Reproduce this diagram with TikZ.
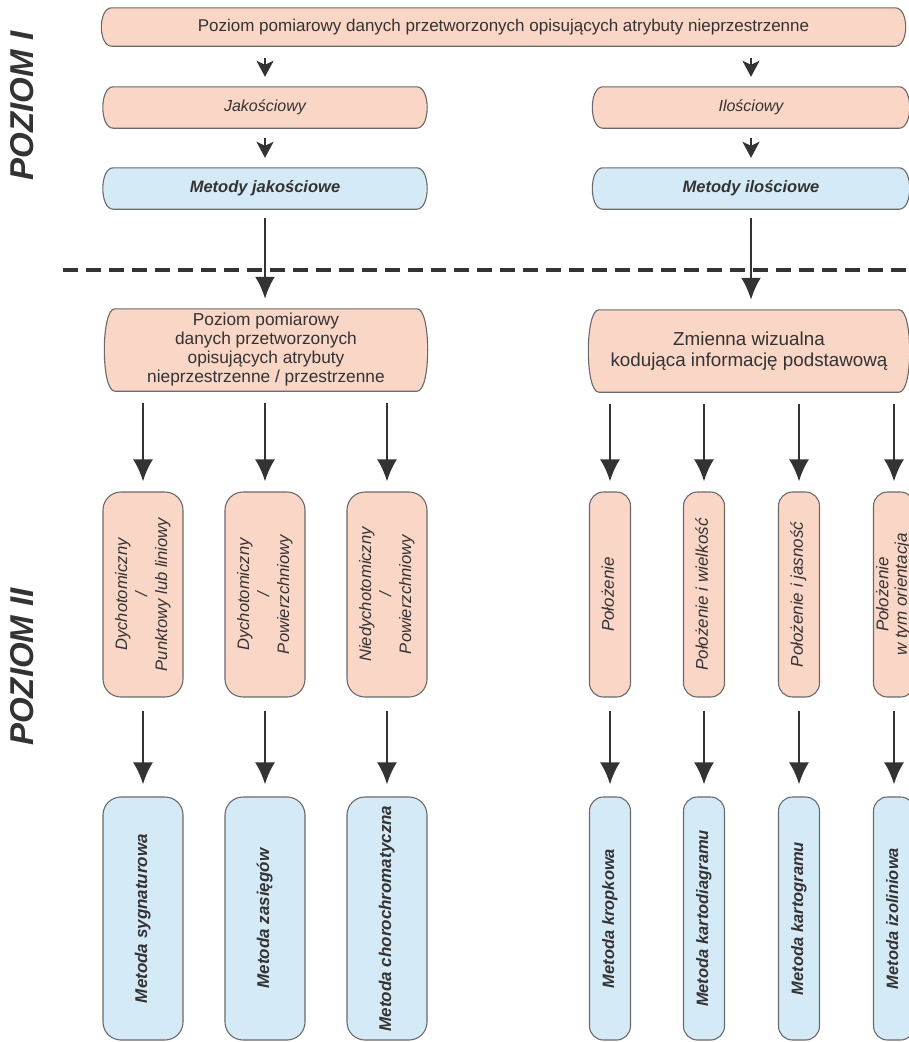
\documentclass[tikz,border=0pt]{standalone}
\usepackage{fontspec}
\setmainfont{Liberation Sans}
\usetikzlibrary{arrows.meta,calc,backgrounds}
\definecolor{pinkf}{HTML}{F9D6C6}
\definecolor{bluef}{HTML}{D5EAF7}
\definecolor{edgec}{HTML}{6A6A6A}
\definecolor{ink}{HTML}{333333}
\newcommand\vtext[1]{\rotatebox{90}{\begin{tabular}{@{}c@{}}#1\end{tabular}}}
% bulging-side outline for a horizontal box: node, fill colour
\newcommand\hshape[2]{%
  \path[draw=edgec, line width=1.1pt, fill=#2]
   ($(#1.north west)+(10,0)$) -- ($(#1.north east)+(-10,0)$)
   .. controls ($(#1.north east)+(4,0)$) and ($(#1.south east)+(4,0)$) .. ($(#1.south east)+(-10,0)$)
   -- ($(#1.south west)+(10,0)$)
   .. controls ($(#1.south west)+(-4,0)$) and ($(#1.north west)+(-4,0)$) .. cycle;}
\begin{document}
\begin{tikzpicture}[x=1pt,y=-1pt,
  hbox/.style={inner sep=0pt, text=ink, align=center},
  vwide/.style={draw=edgec, line width=1.1pt, rounded corners=18pt, inner sep=0pt, text=ink, minimum width=80pt},
  vnarrow/.style={draw=edgec, line width=1.1pt, rounded corners=14pt, inner sep=0pt, text=ink, minimum width=41pt},
  pinkv/.style={fill=pinkf, minimum height=205pt},
  bluev/.style={fill=bluef, minimum height=243pt},
  sarr/.style={draw=ink, line width=2.2pt, -{Stealth[length=16pt,width=17pt,inset=4pt]}},
  arr/.style={draw=ink, line width=2.4pt, -{Latex[length=22pt,width=20pt]}},
  lvl/.style={rotate=90, text=ink, font=\fontsize{33}{33}\selectfont\bfseries\itshape}
]
\clip (0,0) rectangle (909,1042);

% level labels
\node[lvl] (lv1) at (22,106) {POZIOM I};
\node[lvl] (lv2) at (22,667) {POZIOM II};

% top section
\node[hbox, minimum width=803pt, minimum height=38pt, font=\fontsize{17}{20}\selectfont] (top) at (503.5,27)
  {Poziom pomiarowy danych przetworzonych opisujących atrybuty nieprzestrzenne};
\node[hbox, minimum width=323pt, minimum height=41pt, font=\fontsize{16}{19}\selectfont\itshape] (jak) at (265,107.5) {Jakościowy};
\node[hbox, minimum width=316pt, minimum height=41pt, font=\fontsize{16}{19}\selectfont\itshape] (ilo) at (751,107.5) {Ilościowy};
\node[hbox, minimum width=323pt, minimum height=41pt, font=\fontsize{16.5}{19}\selectfont\bfseries\itshape] (mj) at (265,188.5) {Metody jakościowe};
\node[hbox, minimum width=316pt, minimum height=41pt, font=\fontsize{16.5}{19}\selectfont\bfseries\itshape] (mi) at (751,188.5) {Metody ilościowe};

% second level
\node[hbox, minimum width=322pt, minimum height=82pt, font=\fontsize{17.3}{19}\selectfont] (p2) at (266,350)
  {Poziom pomiarowy\\danych przetworzonych\\opisujących atrybuty\\nieprzestrzenne / przestrzenne};
\node[hbox, minimum width=320pt, minimum height=82pt, font=\fontsize{18.8}{21}\selectfont] (z2) at (749,351)
  {Zmienna wizualna\\kodująca informację podstawową};

\begin{scope}[on background layer]
  \fill[white] (0,0) rectangle (909,1042);
  \hshape{top}{pinkf}
  \hshape{jak}{pinkf}
  \hshape{ilo}{pinkf}
  \hshape{mj}{bluef}
  \hshape{mi}{bluef}
  \hshape{p2}{pinkf}
  \hshape{z2}{pinkf}
\end{scope}

\draw[sarr, shorten <=12pt, shorten >=10pt] (top.south -| jak) -- (jak);
\draw[sarr, shorten <=12pt, shorten >=10pt] (top.south -| ilo) -- (ilo);
\draw[sarr, shorten <=10pt, shorten >=10pt] (jak) -- (mj);
\draw[sarr, shorten <=10pt, shorten >=10pt] (ilo) -- (mi);

% dashed separator
\coordinate (dl) at (63,270);
\coordinate (dr) at (915,270);
\draw[ink, line width=3.5pt, dash pattern=on 15pt off 8pt] (dl) -- (dr);

\draw[arr, shorten <=9pt, shorten >=10pt] (mj.south) -- (mj.south |- p2.north);
\draw[arr, shorten <=9pt, shorten >=10pt] (mi.south) -- (mi.south |- z2.north);

% pink vertical boxes
\node[vwide, pinkv, font=\fontsize{16.6}{20}\selectfont\itshape] (pk1) at (143,594.5) {\vtext{Dychotomiczny\\/\\Punktowy lub liniowy}};
\node[vwide, pinkv, font=\fontsize{16.6}{20}\selectfont\itshape] (pk2) at (265,594.5) {\vtext{Dychotomiczny\\/\\Powierzchniowy}};
\node[vwide, pinkv, font=\fontsize{16.6}{20}\selectfont\itshape] (pk3) at (387,594.5) {\vtext{Niedychotomiczny\\/\\Powierzchniowy}};
\node[vnarrow, pinkv, font=\fontsize{17}{19}\selectfont\itshape] (pk4) at (610,594.5) {\vtext{Położenie}};
\node[vnarrow, pinkv, font=\fontsize{17}{19}\selectfont\itshape] (pk5) at (704,594.5) {\vtext{Położenie i wielkość}};
\node[vnarrow, pinkv, font=\fontsize{17}{19}\selectfont\itshape] (pk6) at (799,594.5) {\vtext{Położenie i jasność}};
\node[vnarrow, pinkv, font=\fontsize{17}{18.5}\selectfont\itshape] (pk7) at (894,594.5) {\vtext{Położenie\\w tym orientacja}};

% blue vertical boxes
\node[vwide, bluev, font=\fontsize{17}{20}\selectfont\bfseries\itshape] (bl1) at (143,918.5) {\vtext{Metoda sygnaturowa}};
\node[vwide, bluev, font=\fontsize{17}{20}\selectfont\bfseries\itshape] (bl2) at (265,918.5) {\vtext{Metoda zasięgów}};
\node[vwide, bluev, font=\fontsize{17}{20}\selectfont\bfseries\itshape] (bl3) at (387,918.5) {\vtext{Metoda chorochromatyczna}};
\node[vnarrow, bluev, font=\fontsize{16.5}{20}\selectfont\bfseries\itshape] (bl4) at (610,918.5) {\vtext{Metoda kropkowa}};
\node[vnarrow, bluev, font=\fontsize{16.5}{20}\selectfont\bfseries\itshape] (bl5) at (704,918.5) {\vtext{Metoda kartodiagramu}};
\node[vnarrow, bluev, font=\fontsize{16.5}{20}\selectfont\bfseries\itshape] (bl6) at (799,918.5) {\vtext{Metoda kartogramu}};
\node[vnarrow, bluev, font=\fontsize{16.5}{20}\selectfont\bfseries\itshape] (bl7) at (894,918.5) {\vtext{Metoda izoliniowa}};

% arrows level 2 -> pink
\foreach \k in {pk1,pk2,pk3} {
  \draw[arr, shorten <=12pt, shorten >=10pt] (p2.south -| \k) -- (\k);
}
\foreach \k in {pk4,pk5,pk6,pk7} {
  \draw[arr, shorten <=12pt, shorten >=10pt] (z2.south -| \k) -- (\k);
}
% arrows pink -> blue
\foreach \a/\b in {pk1/bl1,pk2/bl2,pk3/bl3,pk4/bl4,pk5/bl5,pk6/bl6,pk7/bl7} {
  \draw[arr, shorten <=13pt, shorten >=12pt] (\a) -- (\b);
}
\end{tikzpicture}
\end{document}
